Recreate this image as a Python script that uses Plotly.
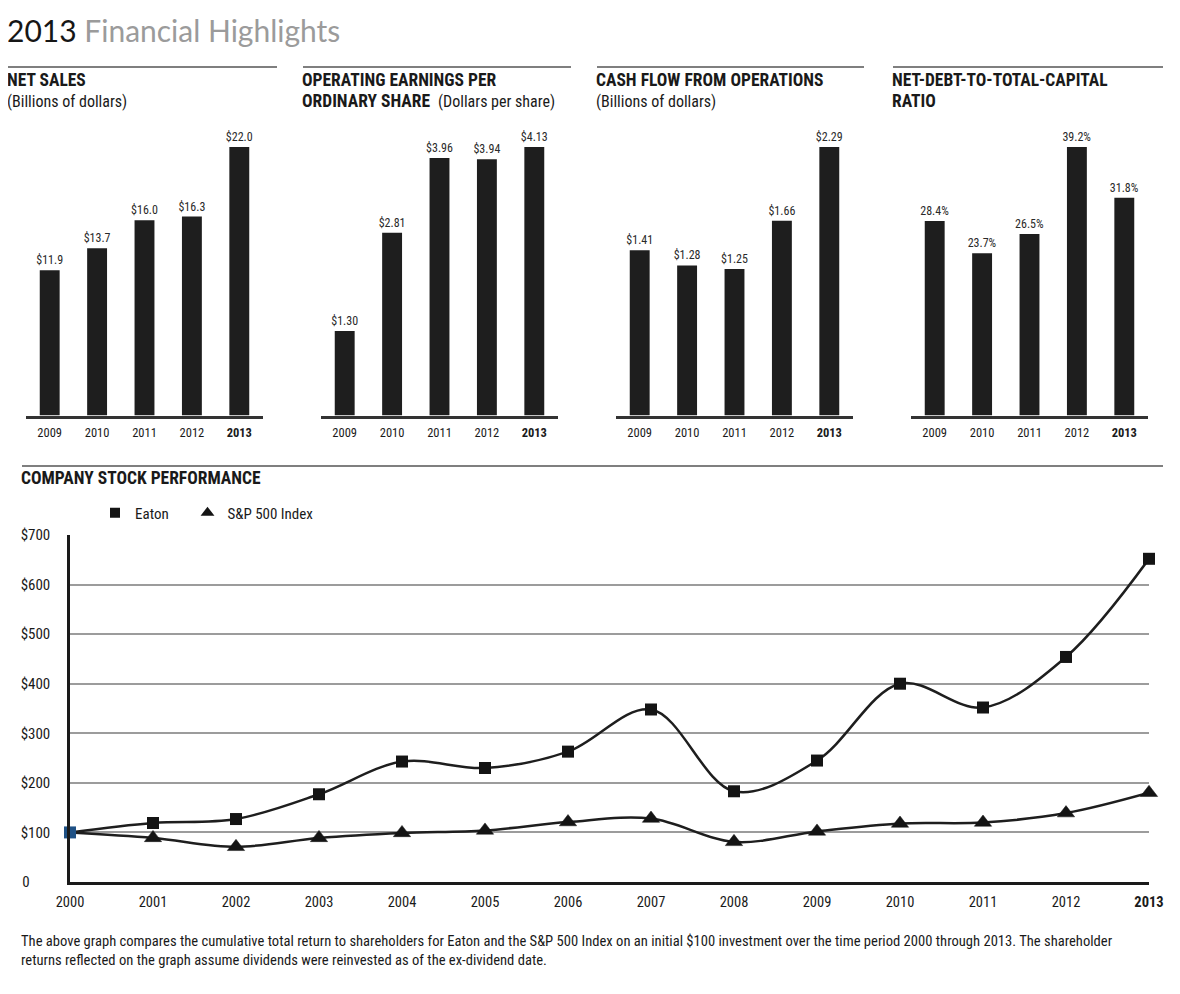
import plotly.graph_objects as go

# ---------------- data ----------------
bar_years = ["2009", "2010", "2011", "2012", "2013"]
net_sales = [11.9, 13.7, 16.0, 16.3, 22.0]
op_eps = [1.30, 2.81, 3.96, 3.94, 4.13]
cash_flow = [1.41, 1.28, 1.25, 1.66, 2.29]
net_debt_ratio = [28.4, 23.7, 26.5, 39.2, 31.8]

stock_years = [2000, 2001, 2002, 2003, 2004, 2005, 2006, 2007, 2008, 2009, 2010, 2011, 2012, 2013]
eaton = [100, 119, 127, 177, 243, 230, 263, 348, 183, 245, 400, 352, 454, 652]
sp500 = [100, 89, 71, 89, 99, 104, 121, 128, 81, 102, 118, 120, 139, 180]
y_ticks = [0, 100, 200, 300, 400, 500, 600, 700]
y_tick_labels = ["0" + "\u00a0" * 6, "$100", "$200", "$300", "$400", "$500", "$600", "$700"]

W, H = 1180, 994
OFF = 8  # page body margin of the browser
FONT = "Roboto Condensed, Liberation Sans Narrow, Roboto, sans-serif"
DARK = "#1e1e1e"


def px(x):
    return (x - OFF) / W


def py(y):
    return 1 - (y - OFF) / H


fig = go.Figure()

panels = [
    (net_sales, "$%{y:.1f}", 26),
    (op_eps, "$%{y:.2f}", 321),
    (cash_flow, "$%{y:.2f}", 616),
    (net_debt_ratio, "%{y:.1f}%", 911),
]
year_ticktext = bar_years[:-1] + ["<b>" + bar_years[-1] + "</b>"]

for i, (vals, tmpl, left) in enumerate(panels):
    n = "" if i == 0 else str(i + 1)
    fig.add_trace(go.Bar(
        x=bar_years, y=vals, xaxis="x" + n, yaxis="y" + n,
        marker=dict(color=DARK, line=dict(width=0)),
        width=0.42,
        texttemplate=tmpl, textposition="outside", cliponaxis=False,
        constraintext="none",
        textfont=dict(family=FONT, size=12, color="#2a2a2a"),
        showlegend=False, hoverinfo="skip",
    ))
    fig.layout["xaxis" + n] = dict(
        domain=[px(left), px(left + 237)], anchor="y" + n, type="category",
        showline=True, linecolor="#333333", linewidth=2.5, ticks="",
        tickvals=bar_years, ticktext=year_ticktext, ticklabelstandoff=4,
        tickfont=dict(family=FONT, size=12.5, color="#1a1a1a"),
        showgrid=False, zeroline=False, fixedrange=True,
    )
    fig.layout["yaxis" + n] = dict(
        domain=[py(415.5), py(147)], anchor="x" + n,
        range=[0, max(vals)], visible=False, fixedrange=True,
    )

# ---------------- stock performance ----------------
sp_sizes = [0] + [15] * (len(sp500) - 1)
eaton_colors = ["#1f5185"] + ["#141414"] * (len(eaton) - 1)

fig.add_trace(go.Scatter(
    x=stock_years, y=sp500, xaxis="x5", yaxis="y5", mode="lines+markers",
    line=dict(color=DARK, width=2.5, shape="spline", smoothing=1.0),
    marker=dict(symbol="triangle-up", size=sp_sizes, color="#141414", opacity=1,
                line=dict(width=0.5, color="#141414")),
    cliponaxis=False, showlegend=False, hoverinfo="skip",
))
fig.add_trace(go.Scatter(
    x=stock_years, y=eaton, xaxis="x5", yaxis="y5", mode="lines+markers",
    line=dict(color=DARK, width=2.5, shape="spline", smoothing=1.0),
    marker=dict(symbol="square", size=12, color=eaton_colors, opacity=1, line=dict(width=0)),
    cliponaxis=False, showlegend=False, hoverinfo="skip",
))
# legend entries (marker only)
fig.add_trace(go.Scatter(
    x=[None], y=[None], xaxis="x5", yaxis="y5", mode="markers",
    name="Eaton" + "\u00a0" * 4,
    marker=dict(symbol="square", size=10, color="#141414"),
))
fig.add_trace(go.Scatter(
    x=[None], y=[None], xaxis="x5", yaxis="y5", mode="markers", name="S&P 500 Index",
    marker=dict(symbol="triangle-up", size=12, color="#141414"),
))

stock_ticktext = [str(y) for y in stock_years[:-1]] + ["<b>%d</b>" % stock_years[-1]]
fig.layout["xaxis5"] = dict(
    domain=[px(70), px(1149)], anchor="y5", range=[2000, 2013],
    tickvals=stock_years, ticktext=stock_ticktext, ticks="", ticklabelstandoff=5,
    showline=True, linecolor="#1a1a1a", linewidth=2.5, showgrid=False, zeroline=False,
    tickfont=dict(family=FONT, size=14.5, color="#1a1a1a"), fixedrange=True,
)
fig.layout["yaxis5"] = dict(
    domain=[py(882), py(535)], anchor="x5", range=[0, 700],
    tickvals=y_ticks, ticktext=y_tick_labels, ticks="", ticklabelstandoff=14,
    showline=True, linecolor="#1a1a1a", linewidth=2.5,
    showgrid=True, gridcolor="#9c9c9c", gridwidth=1.5, zeroline=False,
    tickfont=dict(family=FONT, size=15, color="#1a1a1a"), fixedrange=True,
)

# ---------------- text & rules ----------------
ann = []


def note(x, y, text, size, color="#1a1a1a", family=FONT, yanchor="middle"):
    ann.append(dict(x=px(x), y=py(y), xref="paper", yref="paper", text=text,
                    showarrow=False, xanchor="left", yanchor=yanchor, align="left",
                    font=dict(family=family, size=size, color=color)))


note(5, 30, "2013 <span style='color:#9b9b9b'>Financial Highlights</span>", 30,
     color="#161616", family="Lato, Open Sans, sans-serif")

HS = 17.5
SS = 16
note(5, 80, "<b>NET SALES</b>", HS)
note(5, 101, "(Billions of dollars)", SS)
note(300, 80, "<b>OPERATING EARNINGS PER</b>", HS)
note(300, 101, "<b>ORDINARY SHARE</b>  <span style='font-size:%spx'>(Dollars per share)</span>" % SS, HS)
note(594, 80, "<b>CASH FLOW FROM OPERATIONS</b>", HS)
note(594, 101, "(Billions of dollars)", SS)
note(890, 80, "<b>NET-DEBT-TO-TOTAL-CAPITAL</b>", HS)
note(890, 101, "<b>RATIO</b>", HS)
note(19, 478, "<b>COMPANY STOCK PERFORMANCE</b>", HS)
note(19, 930,
     "The above graph compares the cumulative total return to shareholders for Eaton and the S&P 500 Index "
     "on an initial $100 investment over the time period 2000 through 2013. The shareholder<br>"
     "returns reflected on the graph assume dividends were reinvested as of the ex-dividend date.",
     14.6, yanchor="top")

shapes = []
for x0, x1, y in [(8, 277, 67), (303, 571, 67), (597, 864, 67), (893, 1163, 67), (22, 1163, 466)]:
    shapes.append(dict(type="line", xref="paper", yref="paper",
                       x0=px(x0), x1=px(x1), y0=py(y), y1=py(y),
                       line=dict(color="#555555", width=1.5)))

fig.update_layout(
    width=W, height=H,
    margin=dict(l=0, r=0, t=0, b=0, autoexpand=False),
    paper_bgcolor="white", plot_bgcolor="white",
    annotations=ann, shapes=shapes,
    legend=dict(orientation="h", x=px(95), y=py(513), xanchor="left", yanchor="middle",
                font=dict(family=FONT, size=15, color="#1a1a1a"),
                itemwidth=30, bgcolor="rgba(0,0,0,0)", traceorder="normal"),
    bargap=0.58,
)

fig.write_html("out.html")
